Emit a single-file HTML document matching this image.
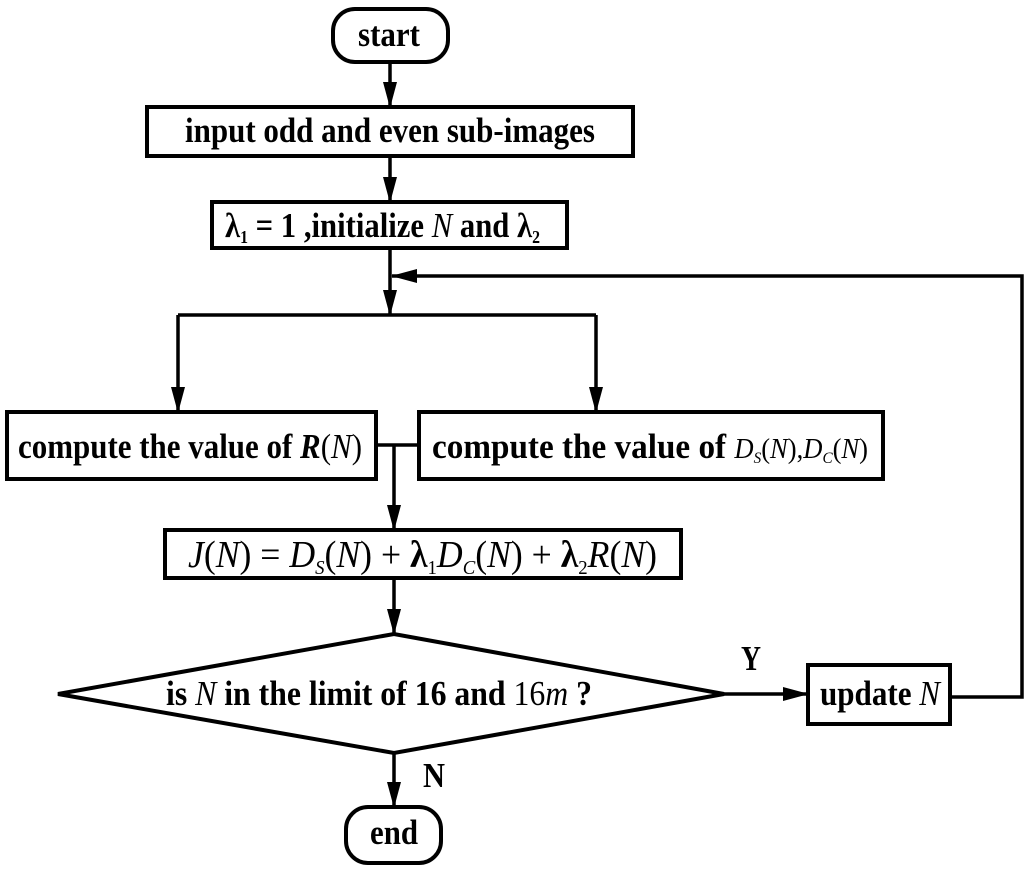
<!DOCTYPE html>
<html><head><meta charset="utf-8"><style>html,body{margin:0;padding:0;background:#fff}svg{display:block}</style></head>
<body>
<svg width="1024" height="872" viewBox="0 0 1024 872" xmlns="http://www.w3.org/2000/svg" font-family="'Liberation Serif', serif" font-weight="bold" font-size="35">
<defs>
<marker id="a" markerWidth="26" markerHeight="14" refX="25" refY="7" orient="auto" markerUnits="userSpaceOnUse"><path d="M0,0 L26,7 L0,14 z" fill="#000"/></marker>
</defs>
<g stroke="#000" stroke-width="4" fill="none">
<rect x="333" y="9" width="115" height="53" rx="22"/>
<rect x="147" y="107" width="486" height="49"/>
<rect x="212" y="202" width="355" height="46"/>
<rect x="7" y="412" width="369" height="67"/>
<rect x="419" y="412" width="464" height="67"/>
<rect x="165" y="530" width="516" height="48"/>
<polygon points="58,694 394,634 724,694 394,753"/>
<rect x="808" y="665" width="142" height="59"/>
<rect x="346" y="807" width="95" height="56" rx="22"/>
</g>
<g stroke="#000" stroke-width="3.5" fill="none">
<line x1="390" y1="62" x2="390" y2="107" marker-end="url(#a)"/>
<line x1="390" y1="156" x2="390" y2="202" marker-end="url(#a)"/>
<line x1="390" y1="248" x2="390" y2="315" marker-end="url(#a)"/>
<polyline points="950,697 1022,697 1022,276 392,276" marker-end="url(#a)"/>
<line x1="178" y1="315" x2="596" y2="315"/>
<line x1="178" y1="315" x2="178" y2="412" marker-end="url(#a)"/>
<line x1="596" y1="315" x2="596" y2="412" marker-end="url(#a)"/>
<line x1="376" y1="445" x2="419" y2="445"/>
<line x1="394" y1="445" x2="394" y2="530" marker-end="url(#a)"/>
<line x1="394" y1="578" x2="394" y2="634" marker-end="url(#a)"/>
<line x1="724" y1="694" x2="808" y2="694" marker-end="url(#a)"/>
<line x1="394" y1="753" x2="394" y2="807" marker-end="url(#a)"/>
</g>
<g fill="#000">
<text x="358" y="46" textLength="62" lengthAdjust="spacingAndGlyphs">start</text>
<text x="185" y="142" textLength="410" lengthAdjust="spacingAndGlyphs">input odd and even sub-images</text>
<text x="225" y="237" textLength="315" lengthAdjust="spacingAndGlyphs">λ<tspan font-size="18" dy="6">1</tspan><tspan dy="-6"> = 1 ,initialize </tspan><tspan font-style="italic" font-weight="normal">N</tspan> and λ<tspan font-size="18" dy="6">2</tspan></text>
<text x="18" y="458" textLength="344" lengthAdjust="spacingAndGlyphs">compute the value of <tspan font-style="italic">R</tspan><tspan font-weight="normal">(<tspan font-style="italic">N</tspan>)</tspan></text>
<text x="432" y="458" textLength="436" lengthAdjust="spacingAndGlyphs">compute the value of <tspan font-weight="normal" font-style="italic" font-size="28">D</tspan><tspan font-weight="normal" font-style="italic" font-size="16" dy="5">S</tspan><tspan font-weight="normal" font-size="28" dy="-5">(<tspan font-style="italic">N</tspan>),</tspan><tspan font-weight="normal" font-style="italic" font-size="28">D</tspan><tspan font-weight="normal" font-style="italic" font-size="16" dy="5">C</tspan><tspan font-weight="normal" font-size="28" dy="-5">(<tspan font-style="italic">N</tspan>)</tspan></text>
<text x="188" y="567" textLength="469" lengthAdjust="spacingAndGlyphs" font-weight="normal" font-size="38"><tspan font-style="italic">J</tspan>(<tspan font-style="italic">N</tspan>) = <tspan font-style="italic">D</tspan><tspan font-style="italic" font-size="20" dy="7">S</tspan><tspan dy="-7">(<tspan font-style="italic">N</tspan>) + </tspan><tspan font-weight="bold">λ</tspan><tspan font-size="20" dy="7">1</tspan><tspan dy="-7" font-style="italic">D</tspan><tspan font-style="italic" font-size="20" dy="7">C</tspan><tspan dy="-7">(<tspan font-style="italic">N</tspan>) + </tspan><tspan font-weight="bold">λ</tspan><tspan font-size="20" dy="7">2</tspan><tspan dy="-7" font-style="italic">R</tspan>(<tspan font-style="italic">N</tspan>)</text>
<text x="166" y="705" textLength="426" lengthAdjust="spacingAndGlyphs">is <tspan font-style="italic" font-weight="normal">N</tspan> in the limit of 16 and <tspan font-weight="normal">16<tspan font-style="italic">m</tspan></tspan>   ?</text>
<text x="820" y="705" textLength="120" lengthAdjust="spacingAndGlyphs">update <tspan font-style="italic" font-weight="normal">N</tspan></text>
<text x="370" y="844" textLength="48" lengthAdjust="spacingAndGlyphs">end</text>
<text x="741" y="670" textLength="20" lengthAdjust="spacingAndGlyphs">Y</text>
<text x="423" y="787" textLength="22" lengthAdjust="spacingAndGlyphs">N</text>
</g>
</svg>
</body></html>
